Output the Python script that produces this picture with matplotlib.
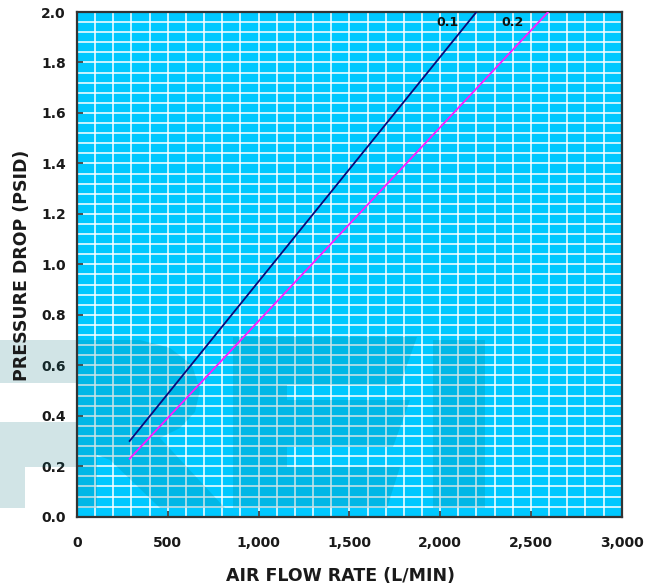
import matplotlib
matplotlib.use('Agg')
import matplotlib.pyplot as plt
from matplotlib.patches import Polygon
import numpy as np

# curve end points
series_names = ['0.1', '0.2']
flow_01 = [290, 2200]
drop_01 = [0.30, 2.0]
flow_02 = [290, 2595]
drop_02 = [0.23, 2.0]
line_colors = ['#0a0a7a', '#ff1aff']

x_ticks = [0, 500, 1000, 1500, 2000, 2500, 3000]
x_labels = ['0', '500', '1,000', '1,500', '2,000', '2,500', '3,000']
y_ticks = [0.0, 0.2, 0.4, 0.6, 0.8, 1.0, 1.2, 1.4, 1.6, 1.8, 2.0]

W, H = 658, 588
fig = plt.figure(figsize=(W / 100, H / 100), dpi=100)
ax = fig.add_axes([77 / W, 1 - 516.7 / H, (621.7 - 77) / W, (516.7 - 12) / H])
ax.set_facecolor('#00C8FF')

ax.set_xlim(0, 3000)
ax.set_ylim(0, 2.0)

# fine white grid
ax.set_xticks(np.arange(0, 3001, 100), minor=True)
ax.set_yticks(np.arange(0, 2.001, 0.04), minor=True)
ax.grid(which='both', color='white', linewidth=1.1, zorder=0.5)
ax.set_axisbelow(True)

ax.set_xticks(x_ticks)
ax.set_xticklabels(x_labels)
ax.set_yticks(y_ticks)
ax.set_yticklabels([f'{v:.1f}' for v in y_ticks])
ax.tick_params(which='minor', length=0)
ax.tick_params(which='major', direction='in', length=4, width=1.2, color='#333333',
               labelsize=10, labelcolor='#1a1a1a')
ax.tick_params(axis='x', pad=14)
ax.tick_params(axis='y', pad=8)
for lab in ax.get_xticklabels() + ax.get_yticklabels():
    lab.set_fontweight('bold')

for sp in ax.spines.values():
    sp.set_color('#333333')
    sp.set_linewidth(1.6)

# faint watermark letters (figure pixel coords)
def fig_pts(pts):
    return [(x / W, 1 - y / H) for x, y in pts]

wm = dict(facecolor=(0, 108 / 255, 120 / 255), alpha=0.18, edgecolor='none',
          transform=fig.transFigure, zorder=1, clip_on=False)
shapes = [
    # left letter, parts outside the axes
    [(0, 340), (77, 340), (77, 383), (0, 383)],
    [(0, 422), (77, 422), (77, 467), (0, 467)],
    [(0, 467), (25, 467), (25, 508), (0, 508)],
    # left letter bowl and leg inside the axes
    [(77, 340), (140, 340), (170, 348), (192, 365), (200, 390), (195, 412),
     (180, 428), (160, 438), (225, 508), (160, 508), (110, 460), (97, 455),
     (97, 508), (77, 508)],
    # middle letter
    [(233, 337), (417, 337), (400, 385), (287, 385), (287, 400), (410, 400),
     (393, 447), (287, 447), (287, 467), (400, 467), (387, 508), (233, 508)],
    # right letter
    [(433, 340), (485, 340), (485, 508), (433, 508)],
]
for s in shapes:
    ax.add_patch(Polygon(fig_pts(s), closed=True, **wm))

ax.plot(flow_01, drop_01, color=line_colors[0], linewidth=1.3, zorder=3)
ax.plot(flow_02, drop_02, color=line_colors[1], linewidth=1.3, zorder=3)
ax.text(2038, 1.96, series_names[0], ha='center', va='center', fontsize=9,
        fontweight='bold', color='#111111', zorder=4)
ax.text(2396, 1.96, series_names[1], ha='center', va='center', fontsize=9,
        fontweight='bold', color='#111111', zorder=4)

fig.text(340 / W, 1 - 576 / H, 'AIR FLOW RATE (L/MIN)', ha='center', va='center',
         fontsize=12.5, fontweight='bold', color='#1a1a1a',
         family=['Liberation Sans Narrow', 'DejaVu Sans'])
fig.text(22 / W, 1 - 265 / H, 'PRESSURE DROP (PSID)', ha='center', va='center',
         rotation=90, fontsize=12.5, fontweight='bold', color='#1a1a1a')

fig.savefig('out.png', dpi=100)
